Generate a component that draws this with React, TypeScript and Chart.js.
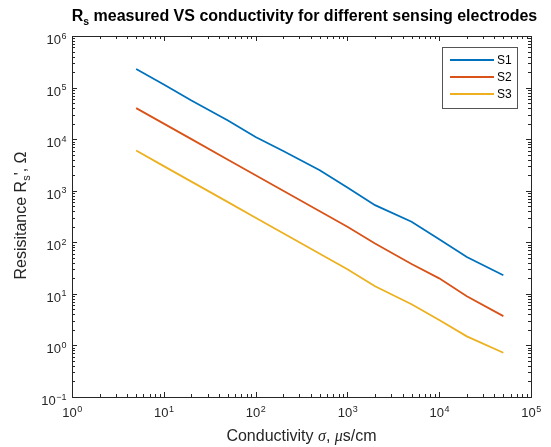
import React, { useEffect, useRef } from "react";
import { Chart, registerables } from "chart.js";

Chart.register(...registerables);

// ---- data ----
const conductivity = [5, 10, 20, 50, 100, 200, 500, 1000, 2000, 5000, 10000, 20000, 50000];
const s1Values = [230000, 115000, 56000, 23000, 11000, 5900, 2500, 1150, 525, 250, 115, 52, 23];
const s2Values = [40000, 20000, 10000, 4000, 2000, 1000, 400, 200, 95, 38, 20, 9, 3.7];
const s3Values = [6000, 3000, 1500, 600, 300, 150, 60, 30, 14, 6.3, 3.1, 1.5, 0.72];
const seriesLabels = ["S1", "S2", "S3"];
const seriesColors = ["#0072BD", "#D95319", "#EDB120"];
const xTickExponents = [0, 1, 2, 3, 4, 5];
const yTickExponents = [-1, 0, 1, 2, 3, 4, 5, 6];

const FONT = "'Liberation Sans', Arial, Helvetica, sans-serif";
const AXIS_COLOR = "#262626";

function drawPow(ctx: CanvasRenderingContext2D, exp: number, x: number, y: number, align: "center" | "right") {
  const base = "10";
  const e = String(exp).replace("-", "\u2212");
  ctx.font = `13px ${FONT}`;
  const bw = ctx.measureText(base).width;
  ctx.font = `9px ${FONT}`;
  const ew = ctx.measureText(e).width;
  const total = bw + ew;
  const x0 = align === "center" ? x - total / 2 : x - total;
  ctx.fillStyle = AXIS_COLOR;
  ctx.textAlign = "left";
  ctx.textBaseline = "alphabetic";
  ctx.font = `13px ${FONT}`;
  ctx.fillText(base, x0, y);
  ctx.font = `9px ${FONT}`;
  ctx.fillText(e, x0 + bw + 0.5, y - 5.5);
}

const matlabPlugin = {
  id: "matlabDecor",
  afterDraw(chart: any) {
    const ctx: CanvasRenderingContext2D = chart.ctx;
    const { left, top, right, bottom } = chart.chartArea;
    const xs = chart.scales.x;
    const ys = chart.scales.y;
    ctx.save();

    // box
    ctx.strokeStyle = AXIS_COLOR;
    ctx.lineWidth = 1;
    ctx.strokeRect(Math.round(left) + 0.5, Math.round(top) + 0.5, Math.round(right - left), Math.round(bottom - top));

    // ticks
    const major = 5;
    const minor = 3;
    ctx.beginPath();
    for (let i = 0; i < xTickExponents.length; i++) {
      const d = xTickExponents[i];
      const px = Math.round(xs.getPixelForValue(Math.pow(10, d))) + 0.5;
      ctx.moveTo(px, bottom); ctx.lineTo(px, bottom - major);
      ctx.moveTo(px, top); ctx.lineTo(px, top + major);
      if (i < xTickExponents.length - 1) {
        for (let k = 2; k <= 9; k++) {
          const mx = Math.round(xs.getPixelForValue(k * Math.pow(10, d))) + 0.5;
          ctx.moveTo(mx, bottom); ctx.lineTo(mx, bottom - minor);
          ctx.moveTo(mx, top); ctx.lineTo(mx, top + minor);
        }
      }
    }
    for (let i = 0; i < yTickExponents.length; i++) {
      const d = yTickExponents[i];
      const py = Math.round(ys.getPixelForValue(Math.pow(10, d))) + 0.5;
      ctx.moveTo(left, py); ctx.lineTo(left + major, py);
      ctx.moveTo(right, py); ctx.lineTo(right - major, py);
      if (i < yTickExponents.length - 1) {
        for (let k = 2; k <= 9; k++) {
          const my = Math.round(ys.getPixelForValue(k * Math.pow(10, d))) + 0.5;
          ctx.moveTo(left, my); ctx.lineTo(left + minor, my);
          ctx.moveTo(right, my); ctx.lineTo(right - minor, my);
        }
      }
    }
    ctx.stroke();

    // tick labels
    for (const d of xTickExponents) {
      const px = xs.getPixelForValue(Math.pow(10, d));
      drawPow(ctx, d, px, bottom + 20, "center");
    }
    for (const d of yTickExponents) {
      const py = ys.getPixelForValue(Math.pow(10, d));
      drawPow(ctx, d, left - 6, py + 8, "right");
    }

    // title
    const cx = (left + right) / 2;
    ctx.fillStyle = "#000";
    ctx.textBaseline = "alphabetic";
    ctx.textAlign = "left";
    const tFont = `bold 16px ${FONT}`;
    const tSub = `bold 10.5px ${FONT}`;
    const rest = " measured VS conductivity for different sensing electrodes";
    ctx.font = tFont;
    const wR = ctx.measureText("R").width;
    const wRest = ctx.measureText(rest).width;
    ctx.font = tSub;
    const wS = ctx.measureText("s").width;
    const tx0 = cx + 3 - (wR + wS + wRest) / 2;
    const ty = 21;
    ctx.font = tFont; ctx.fillText("R", tx0, ty);
    ctx.font = tSub; ctx.fillText("s", tx0 + wR, ty + 4);
    ctx.font = tFont; ctx.fillText(rest, tx0 + wR + wS, ty);

    // x-axis label
    ctx.fillStyle = AXIS_COLOR;
    const nf = `16px ${FONT}`;
    const itf = `italic 16px 'Liberation Serif', 'Times New Roman', serif`;
    const parts: [string, string][] = [["Conductivity ", nf], ["\u03C3", itf], [", ", nf], ["\u03BC", itf], ["s/cm", nf]];
    let tw = 0;
    for (const [t, f] of parts) { ctx.font = f; tw += ctx.measureText(t).width; }
    let xx = cx - tw / 2;
    for (const [t, f] of parts) { ctx.font = f; ctx.fillText(t, xx, 441); xx += ctx.measureText(t).width; }

    // y-axis label
    ctx.save();
    const cy = (top + bottom) / 2;
    ctx.translate(26, cy - 1);
    ctx.rotate(-Math.PI / 2);
    const yparts: [string, string, number][] = [["Resisitance R", nf, 0], ["s", `11px ${FONT}`, 4], ["', \u03A9", nf, 0]];
    let yw = 0;
    for (const [t, f] of yparts) { ctx.font = f; yw += ctx.measureText(t).width; }
    let yx = -yw / 2;
    for (const [t, f, dy] of yparts) { ctx.font = f; ctx.fillText(t, yx, dy); yx += ctx.measureText(t).width; }
    ctx.restore();

    // legend
    const lx = 442, ly = 47, lw = 75, lh = 61;
    ctx.fillStyle = "#fff";
    ctx.fillRect(lx, ly, lw, lh);
    ctx.strokeStyle = "#555";
    ctx.lineWidth = 1;
    ctx.strokeRect(lx + 0.5, ly + 0.5, lw, lh);
    chart.data.datasets.forEach((ds: any, i: number) => {
      const yy = 60 + i * 17;
      ctx.strokeStyle = ds.borderColor;
      ctx.lineWidth = 2;
      ctx.beginPath();
      ctx.moveTo(450, yy);
      ctx.lineTo(494, yy);
      ctx.stroke();
      ctx.fillStyle = "#000";
      ctx.font = `12px ${FONT}`;
      ctx.textBaseline = "middle";
      ctx.fillText(ds.label, 497, yy + 1);
    });

    ctx.restore();
  },
};

export default function App() {
  const ref = useRef<HTMLCanvasElement | null>(null);
  useEffect(() => {
    if (!ref.current) return;
    const seriesValues = [s1Values, s2Values, s3Values];
    const chart = new Chart(ref.current, {
      type: "line",
      data: {
        datasets: seriesLabels.map((label, i) => ({
          label,
          data: conductivity.map((x, j) => ({ x, y: seriesValues[i][j] })),
          borderColor: seriesColors[i],
          backgroundColor: seriesColors[i],
          borderWidth: 1.8,
          pointRadius: 0,
          tension: 0,
          fill: false,
        })),
      },
      options: {
        responsive: false,
        animation: false,
        devicePixelRatio: 1,
        layout: { padding: { left: 72, right: 20, top: 36, bottom: 50 } },
        plugins: { legend: { display: false }, tooltip: { enabled: false }, title: { display: false } },
        scales: {
          x: { type: "logarithmic", min: 1, max: 100000, display: false },
          y: { type: "logarithmic", min: 0.1, max: 1000000, display: false },
        },
      },
      plugins: [matlabPlugin],
    });
    return () => chart.destroy();
  }, []);
  return (
    <div style={{ position: "fixed", left: 0, top: 0, width: 551, height: 447, background: "#fff" }}>
      <canvas ref={ref} width={551} height={447} />
    </div>
  );
}
